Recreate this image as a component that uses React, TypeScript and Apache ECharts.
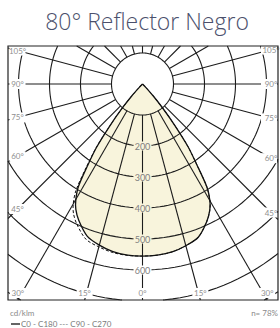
import React, { useEffect, useRef } from 'react';
import * as echarts from 'echarts';

// ---------- data ----------
const titleText = '80° Reflector Negro';
const unitLabel = 'cd/klm';
const efficiencyLabel = 'n= 78%';
const legendLabel = 'C0 - C180 --- C90 - C270';

// gamma angles (deg from nadir) and luminous intensity (cd/klm)
const gammaAngles = [0, 5, 10, 15, 20, 25, 28, 30, 32, 34, 36, 38, 40, 42, 44, 46];
const c0 = [555, 554, 550, 540, 526, 490, 462, 435, 392, 312, 250, 168, 100, 50, 15, 0];
const c180 = [555, 554, 549, 538, 522, 486, 458, 430, 390, 315, 252, 170, 102, 52, 16, 0];
const c90 = [555, 554, 550, 540, 526, 490, 462, 435, 392, 312, 250, 168, 100, 50, 15, 0];
const c270 = [555, 555, 552, 544, 533, 500, 474, 447, 405, 325, 256, 170, 100, 50, 15, 0];

const ringValues = [100, 200, 300, 400, 500, 600, 700, 800];
const ringLabelValues = [200, 300, 400, 500, 600];
const spokeAngles = [0, 15, 30, 45, 60, 75, 90, 105, 120, 135, 150, 165, 180, 195, 210, 225, 240, 255, 270, 285, 300, 315, 330, 345];
const angleTickValues = [0, 15, 30, 45, 60, 75, 90, 105];
const angleTickLabels = ['0°', '15°', '30°', '45°', '60°', '75°', '90°', '105°'];

// ---------- layout ----------
const GRID = { left: 8, top: 46, width: 270, height: 254 };
const CENTER = { x: 142.5, y: 84 };
const PX = 0.31; // px per cd/klm
const xMin = -(CENTER.x - GRID.left) / PX;
const xMax = (GRID.left + GRID.width - CENTER.x) / PX;
const yMax = (CENTER.y - GRID.top) / PX;
const yMin = -(GRID.top + GRID.height - CENTER.y) / PX;

const FILL = '#f8f4dc';
const LINE = '#1c1c1c';
const rad = (d: number) => (d * Math.PI) / 180;
const pt = (v: number, a: number, side: number) => [side * v * Math.sin(rad(a)), -v * Math.cos(rad(a))];

function curve(right: number[], left: number[]) {
  const pts: number[][] = [];
  for (let i = gammaAngles.length - 1; i >= 0; i--) pts.push(pt(right[i], gammaAngles[i], 1));
  for (let i = 1; i < gammaAngles.length; i++) pts.push(pt(left[i], gammaAngles[i], -1));
  return pts;
}

type R = { x0: number; y0: number; x1: number; y1: number };
function clipSeg(p0: number[], p1: number[], r: R) {
  let t0 = 0;
  let t1 = 1;
  const dx = p1[0] - p0[0];
  const dy = p1[1] - p0[1];
  const checks = [
    [-dx, p0[0] - r.x0],
    [dx, r.x1 - p0[0]],
    [-dy, p0[1] - r.y0],
    [dy, r.y1 - p0[1]],
  ];
  for (const [p, q] of checks) {
    if (p === 0) {
      if (q < 0) return null;
    } else {
      const t = q / p;
      if (p < 0) {
        if (t > t1) return null;
        if (t > t0) t0 = t;
      } else {
        if (t < t0) return null;
        if (t < t1) t1 = t;
      }
    }
  }
  return { a: [p0[0] + t0 * dx, p0[1] + t0 * dy], b: [p0[0] + t1 * dx, p0[1] + t1 * dy], endClipped: t1 < 1 };
}
function clipPolyline(pts: number[][], r: R) {
  const runs: number[][][] = [];
  let cur: number[][] | null = null;
  for (let i = 0; i < pts.length - 1; i++) {
    const s = clipSeg(pts[i], pts[i + 1], r);
    if (!s) {
      if (cur) runs.push(cur);
      cur = null;
      continue;
    }
    if (!cur) cur = [s.a, s.b];
    else cur.push(s.b);
    if (s.endClipped) {
      runs.push(cur);
      cur = null;
    }
  }
  if (cur) runs.push(cur);
  return runs;
}

function angleLabelPoints() {
  const out: { value: number[]; text: string; side: number }[] = [];
  angleTickValues.forEach((a, i) => {
    const sides = a === 0 ? [1] : [-1, 1];
    sides.forEach((side) => {
      let x: number;
      let y: number;
      if (a <= 30) {
        y = yMin + 7 / PX;
        const t = -yMin / Math.cos(rad(a));
        x = side * t * Math.sin(rad(a));
      } else {
        x = side < 0 ? xMin + 9.5 / PX : xMax - 7 / PX;
        const t = Math.abs(x) / Math.sin(rad(a));
        y = -t * Math.cos(rad(a));
      }
      out.push({ value: [x, y], text: angleTickLabels[i], side });
    });
  });
  return out;
}

function buildOption() {
  const solid = curve(c0, c180);
  const dashed = curve(c90, c270);
  const angleLabels = angleLabelPoints();

  const renderItem = (_params: any, api: any) => {
    const P = (p: number[]) => api.coord(p);
    const tl = P([xMin, yMax]);
    const br = P([xMax, yMin]);
    const frame: R = { x0: tl[0], y0: tl[1], x1: br[0], y1: br[1] };
    const children: any[] = [];

    children.push({
      type: 'polygon',
      z2: 1,
      shape: { points: solid.map(P), smooth: 0.25 },
      style: { fill: FILL, stroke: 'none' },
    });

    ringValues.forEach((v) => {
      const pts: number[][] = [];
      for (let k = 0; k <= 360; k += 2) pts.push(P(pt(v, k, 1)));
      clipPolyline(pts, frame).forEach((run) =>
        children.push({ type: 'polyline', z2: 5, shape: { points: run }, style: { stroke: LINE, lineWidth: 1.1, fill: 'none' } })
      );
    });
    spokeAngles.forEach((a) => {
      clipPolyline([P(pt(100, a, 1)), P(pt(1000, a, 1))], frame).forEach((run) =>
        children.push({ type: 'polyline', z2: 5, shape: { points: run }, style: { stroke: LINE, lineWidth: 1.1, fill: 'none' } })
      );
    });

    children.push({
      type: 'polyline',
      z2: 8,
      shape: { points: dashed.map(P), smooth: 0.3 },
      style: { stroke: '#111', lineWidth: 1, lineDash: [3, 2], fill: 'none' },
    });
    children.push({
      type: 'polyline',
      z2: 9,
      shape: { points: solid.map(P), smooth: 0.3 },
      style: { stroke: '#111', lineWidth: 1.3, fill: 'none' },
    });

    ringLabelValues.forEach((v) => {
      const c = P([0, -v]);
      children.push({
        type: 'rect',
        z2: 20,
        shape: { x: c[0] - 9, y: c[1] - 4.5, width: 18, height: 9 },
        style: { fill: v <= 500 ? FILL : '#fff', stroke: 'none' },
      });
      children.push({
        type: 'text',
        z2: 21,
        x: c[0],
        y: c[1],
        style: { text: String(v), fill: '#7f7f7f', font: '9px Lato', textAlign: 'center', textVerticalAlign: 'middle' },
      });
    });

    angleLabels.forEach((l) => {
      const c = P(l.value);
      const w = 16;
      const left = l.side < 0 ? Math.max(c[0] - w / 2, frame.x0 + 1) : Math.min(c[0] - w / 2, frame.x1 - 1 - w);
      children.push({
        type: 'rect',
        z2: 20,
        shape: { x: left, y: c[1] - 5, width: w, height: 10 },
        style: { fill: '#fff', stroke: 'none' },
      });
      children.push({
        type: 'text',
        z2: 21,
        x: c[0],
        y: c[1],
        style: { text: l.text, fill: '#8f8f8f', font: '8px Lato', textAlign: 'center', textVerticalAlign: 'middle' },
      });
    });

    children.push({
      type: 'rect',
      z2: 30,
      shape: { x: frame.x0, y: frame.y0, width: frame.x1 - frame.x0, height: frame.y1 - frame.y0 },
      style: { fill: 'none', stroke: '#222', lineWidth: 1.2 },
    });

    return { type: 'group', children };
  };

  return {
    animation: false,
    backgroundColor: '#fff',
    grid: { ...GRID, show: false },
    xAxis: { type: 'value', min: xMin, max: xMax, show: false },
    yAxis: { type: 'value', min: yMin, max: yMax, show: false },
    series: [
      {
        type: 'custom',
        silent: true,
        clip: false,
        data: [[0, 0]],
        renderItem,
      },
    ],
    graphic: [
      {
        type: 'text',
        x: 147,
        y: 21,
        style: { text: titleText, fill: '#4b506c', font: '300 23px "Open Sans"', textAlign: 'center', textVerticalAlign: 'middle' },
      },
      {
        type: 'text',
        x: 10,
        y: 313,
        style: { text: unitLabel, fill: '#8a8a8a', font: '8px Lato', textAlign: 'left', textVerticalAlign: 'middle' },
      },
      {
        type: 'text',
        x: 278,
        y: 313,
        style: { text: efficiencyLabel, fill: '#8a8a8a', font: '8px Lato', textAlign: 'right', textVerticalAlign: 'middle' },
      },
      {
        type: 'line',
        shape: { x1: 11, y1: 324, x2: 20, y2: 324 },
        style: { stroke: '#111', lineWidth: 1.3 },
      },
      {
        type: 'text',
        x: 21,
        y: 324,
        style: { text: legendLabel, fill: '#7a7a7a', font: '8px Lato', textAlign: 'left', textVerticalAlign: 'middle' },
      },
    ],
  };
}

export default function App() {
  const ref = useRef<HTMLDivElement>(null);
  useEffect(() => {
    if (!ref.current) return;
    const chart = echarts.init(ref.current, undefined, { renderer: 'svg' });
    chart.setOption(buildOption());
    return () => chart.dispose();
  }, []);
  return (
    <div
      ref={ref}
      style={{ position: 'fixed', left: 0, top: 0, width: 280, height: 328, background: '#fff' }}
    />
  );
}
